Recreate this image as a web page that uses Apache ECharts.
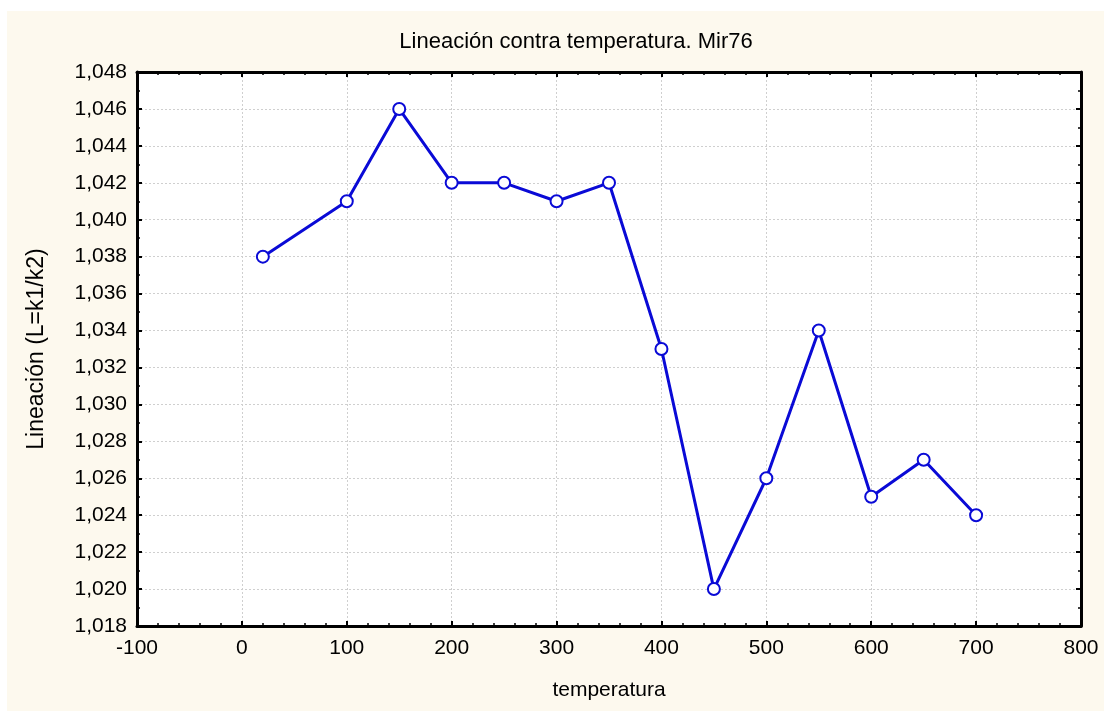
<!DOCTYPE html>
<html>
<head>
<meta charset="utf-8">
<script src="https://cdn.jsdelivr.net/npm/echarts@6/dist/echarts.min.js"></script>
<style>
html,body{margin:0;padding:0;background:#ffffff;}
#bg{position:absolute;left:7px;top:11px;width:1097px;height:700px;background:#FDF9EE;}
#chart{position:absolute;left:0;top:0;width:1104px;height:711px;}
</style>
</head>
<body>
<div id="bg"></div>
<div id="chart"></div>
<script>
const temperatures = [20, 100, 150, 200, 250, 300, 350, 400, 450, 500, 550, 600, 650, 700];
const lineation = [1.038, 1.041, 1.046, 1.042, 1.042, 1.041, 1.042, 1.033, 1.020, 1.026, 1.034, 1.025, 1.027, 1.024];
const titleText = 'Lineación contra temperatura. Mir76';
const xName = 'temperatura';
const yName = 'Lineación (L=k1/k2)';

const chart = echarts.init(document.getElementById('chart'), null, {renderer: 'canvas'});
const font = 'Liberation Sans, Arial, sans-serif';
const baseX = {
  type: 'value', min: -100, max: 800, interval: 100,
  axisLine: {show: true, onZero: false, lineStyle: {color: '#000', width: 3}},
  axisTick: {show: true, inside: true, length: 5, lineStyle: {color: '#000', width: 2}},
  minorTick: {show: true, splitNumber: 5, length: 3, lineStyle: {color: '#000', width: 1.5}},
};
const baseY = {
  type: 'value', min: 1.018, max: 1.048, interval: 0.002,
  axisLine: {show: true, onZero: false, lineStyle: {color: '#000', width: 3}},
  axisTick: {show: true, inside: true, length: 5, lineStyle: {color: '#000', width: 2}},
  minorTick: {show: true, splitNumber: 2, length: 3, lineStyle: {color: '#000', width: 1.5}},
};
const option = {
  animation: false,
  backgroundColor: 'transparent',
  textStyle: {fontFamily: font},
  title: {
    text: titleText, left: 571, top: 26, textAlign: 'center',
    textStyle: {fontSize: 22, fontWeight: 'normal', color: '#000', fontFamily: font}
  },
  grid: {left: 137, top: 72, right: 23, bottom: 85, show: true, backgroundColor: '#ffffff', borderWidth: 0},
  xAxis: [
    Object.assign({}, baseX, {
      position: 'bottom',
      name: xName, nameLocation: 'middle', nameGap: 54,
      nameTextStyle: {fontSize: 21, color: '#000', fontFamily: font},
      axisLabel: {fontSize: 21, color: '#000', margin: 12, fontFamily: font},
      splitLine: {show: true, lineStyle: {color: '#cfcfcf', type: [2, 2], width: 1}}
    }),
    Object.assign({}, baseX, {
      position: 'top', axisLabel: {show: false}, splitLine: {show: false}
    })
  ],
  yAxis: [
    Object.assign({}, baseY, {
      position: 'left',
      name: yName, nameLocation: 'middle', nameGap: 89,
      nameTextStyle: {fontSize: 23, color: '#000', fontFamily: font},
      axisLabel: {fontSize: 21, color: '#000', margin: 10, fontFamily: font,
        formatter: v => v.toFixed(3).replace('.', ',')},
      splitLine: {show: true, lineStyle: {color: '#cfcfcf', type: [2, 2], width: 1}}
    }),
    Object.assign({}, baseY, {
      position: 'right', axisLabel: {show: false}, splitLine: {show: false}
    })
  ],
  series: [{
    type: 'line',
    data: temperatures.map((t, i) => [t, lineation[i]]),
    xAxisIndex: 0, yAxisIndex: 0,
    lineStyle: {color: '#0A0AD6', width: 3},
    symbol: 'circle', symbolSize: 12,
    itemStyle: {color: '#ffffff', borderColor: '#0A0AD6', borderWidth: 2},
    z: 5
  }]
};
chart.setOption(option);
</script>
</body>
</html>
